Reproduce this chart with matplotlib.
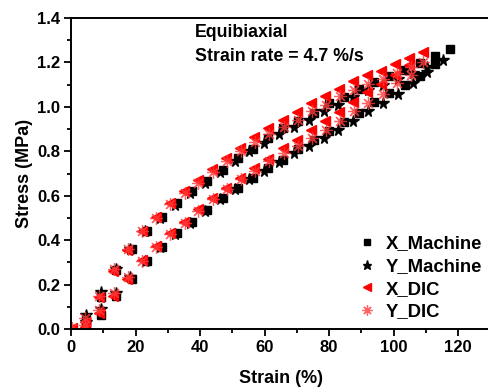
# -*- coding: utf-8 -*-

# %%
import matplotlib
matplotlib.use('Agg')
import matplotlib.pyplot as plt
from matplotlib.ticker import MultipleLocator


# %% Data ---------------------------------------------------------------------
# loading branch followed by the unloading branch, strain in %, stress in MPa
x_machine_strain = [4.7, 9.4, 14.1, 18.8, 23.5, 28.2, 32.9, 37.6, 42.3, 47.0,
                    51.7, 56.4, 61.1, 65.8, 70.5, 75.2, 79.9, 84.6, 89.3, 94.0,
                    98.7, 103.4, 108.1, 112.8, 117.5,
                    112.8, 108.1, 103.4, 98.7, 94.0, 89.3, 84.6, 79.9, 75.2,
                    70.5, 65.8, 61.1, 56.4, 51.7, 47.0, 42.3, 37.6, 32.9, 28.2,
                    23.5, 18.8, 14.1, 9.4, 4.7]
x_machine_stress = [0.040, 0.145, 0.266, 0.358, 0.441, 0.502, 0.566, 0.621,
                    0.668, 0.718, 0.768, 0.812, 0.862, 0.904, 0.937, 0.972,
                    1.017, 1.044, 1.080, 1.114, 1.140, 1.167, 1.197, 1.228,
                    1.260,
                    1.194, 1.140, 1.100, 1.064, 1.021, 0.974, 0.934, 0.892,
                    0.851, 0.812, 0.763, 0.724, 0.679, 0.634, 0.589, 0.536,
                    0.481, 0.431, 0.371, 0.308, 0.224, 0.149, 0.065, 0.015]

y_machine_strain = [4.6, 9.2, 13.8, 18.4, 23.0, 27.6, 32.2, 36.8, 41.5, 46.1,
                    50.7, 55.3, 59.9, 64.5, 69.1, 73.7, 78.3, 82.9, 87.5, 92.1,
                    96.7, 101.3, 105.9, 110.5, 115.2,
                    110.5, 105.9, 101.3, 96.7, 92.1, 87.5, 82.9, 78.3, 73.7,
                    69.1, 64.5, 59.9, 55.3, 50.7, 46.1, 41.5, 36.8, 32.2, 27.6,
                    23.0, 18.4, 13.8, 9.2, 4.6]
y_machine_stress = [0.063, 0.168, 0.272, 0.360, 0.440, 0.500, 0.560, 0.612,
                    0.657, 0.705, 0.755, 0.803, 0.839, 0.877, 0.908, 0.941,
                    0.980, 1.008, 1.046, 1.075, 1.100, 1.125, 1.152, 1.180,
                    1.210,
                    1.155, 1.108, 1.060, 1.017, 0.980, 0.935, 0.895, 0.860,
                    0.824, 0.791, 0.754, 0.712, 0.674, 0.628, 0.584, 0.530,
                    0.477, 0.428, 0.370, 0.305, 0.232, 0.160, 0.090, 0.030]

x_dic_strain = [0.3, 4.3, 8.7, 13.1, 17.5, 21.9, 26.2, 30.6, 35.0, 39.3, 43.7,
                48.1, 52.5, 56.8, 61.2, 65.6, 70.0, 74.3, 78.7, 83.1, 87.4,
                91.8, 96.2, 100.6, 104.9, 109.2,
                104.9, 100.6, 96.2, 91.8, 87.4, 83.1, 78.7, 74.3, 70.0, 65.6,
                61.2, 56.8, 52.5, 48.1, 43.7, 39.3, 35.0, 30.6, 26.2, 21.9,
                17.5, 13.1, 8.7, 4.3]
x_dic_stress = [0.005, 0.030, 0.145, 0.262, 0.355, 0.440, 0.502, 0.566, 0.620,
                0.670, 0.720, 0.770, 0.815, 0.865, 0.906, 0.940, 0.975, 1.018,
                1.047, 1.082, 1.116, 1.143, 1.160, 1.195, 1.218, 1.245,
                1.190, 1.142, 1.102, 1.066, 1.023, 0.976, 0.936, 0.894, 0.853,
                0.814, 0.765, 0.726, 0.681, 0.636, 0.591, 0.538, 0.483, 0.433,
                0.373, 0.310, 0.226, 0.150, 0.070, 0.010]

y_dic_strain = [0.3, 4.4, 8.8, 13.2, 17.6, 22.0, 26.4, 30.8, 35.2, 39.5, 43.9,
                48.3, 52.7, 57.1, 61.5, 65.9, 70.3, 74.7, 79.1, 83.5, 87.8,
                92.2, 96.6, 101.0, 105.4, 109.2,
                105.4, 101.0, 96.6, 92.2, 87.8, 83.5, 79.1, 74.7, 70.3, 65.9,
                61.5, 57.1, 52.7, 48.3, 43.9, 39.5, 35.2, 30.8, 26.4, 22.0,
                17.6, 13.2, 8.8, 4.4]
y_dic_stress = [0.003, 0.050, 0.150, 0.270, 0.358, 0.440, 0.500, 0.561, 0.613,
                0.658, 0.706, 0.756, 0.802, 0.840, 0.878, 0.909, 0.942, 0.981,
                1.010, 1.047, 1.076, 1.101, 1.126, 1.153, 1.180, 1.204,
                1.144, 1.106, 1.060, 1.018, 0.981, 0.936, 0.896, 0.861, 0.825,
                0.792, 0.755, 0.713, 0.675, 0.629, 0.585, 0.531, 0.478, 0.429,
                0.371, 0.306, 0.233, 0.160, 0.085, 0.020]


# %% Style --------------------------------------------------------------------
plt.rcParams['font.family'] = ['Liberation Sans', 'DejaVu Sans']
plt.rcParams['font.weight'] = 'bold'

fig = plt.figure(figsize=(4.88, 3.89), dpi=100)
ax = fig.add_axes([71/488, 60/389, 419.3/488, 311/389])

# %% Visualization ------------------------------------------------------------
ax.plot(x_machine_strain, x_machine_stress, ls='none', marker='s', ms=6,
        color='black', label='X_Machine')
ax.plot(y_machine_strain, y_machine_stress, ls='none', marker='*', ms=8.5,
        color='black', label='Y_Machine')
ax.plot(x_dic_strain, x_dic_stress, ls='none', marker='<', ms=7,
        color='#ff0000', label='X_DIC')
ax.plot(y_dic_strain, y_dic_stress, ls='none', marker=(8, 2, 0), ms=9,
        mew=0.9, color='#ff3b3b', alpha=0.8, label='Y_DIC')

ax.text(38.4, 1.333, 'Equibiaxial', fontsize=12.8, fontweight='bold',
        va='center')
ax.text(38.4, 1.225, 'Strain rate = 4.7 %/s', fontsize=12.8,
        fontweight='bold', va='center')

# axes limits and ticks
ax.set_xlim(0, 130)
ax.set_ylim(0, 1.4)
ax.xaxis.set_major_locator(MultipleLocator(20))
ax.xaxis.set_minor_locator(MultipleLocator(10))
ax.yaxis.set_major_locator(MultipleLocator(0.2))
ax.yaxis.set_minor_locator(MultipleLocator(0.1))
ax.yaxis.set_major_formatter(lambda v, p: f'{v:.1f}')
ax.set_xticks([0, 20, 40, 60, 80, 100, 120])
ax.tick_params(which='both', direction='out', width=1.3, labelsize=12,
               top=False, right=False)
ax.tick_params(which='major', length=5, pad=3)
ax.tick_params(which='minor', length=3)
for side in ['left', 'bottom', 'top']:
    ax.spines[side].set_linewidth(1.4)

ax.set_xlabel('Strain (%)', fontsize=13, fontweight='bold', labelpad=11)
ax.set_ylabel('Stress (MPa)', fontsize=13, fontweight='bold', labelpad=3)

ax.legend(loc='lower right', bbox_to_anchor=(1.02, -0.025), frameon=False,
          fontsize=13.3, markerscale=0.8, handlelength=1.0, handletextpad=0.5,
          labelspacing=0.3)

fig.savefig('out.png', dpi=100)
